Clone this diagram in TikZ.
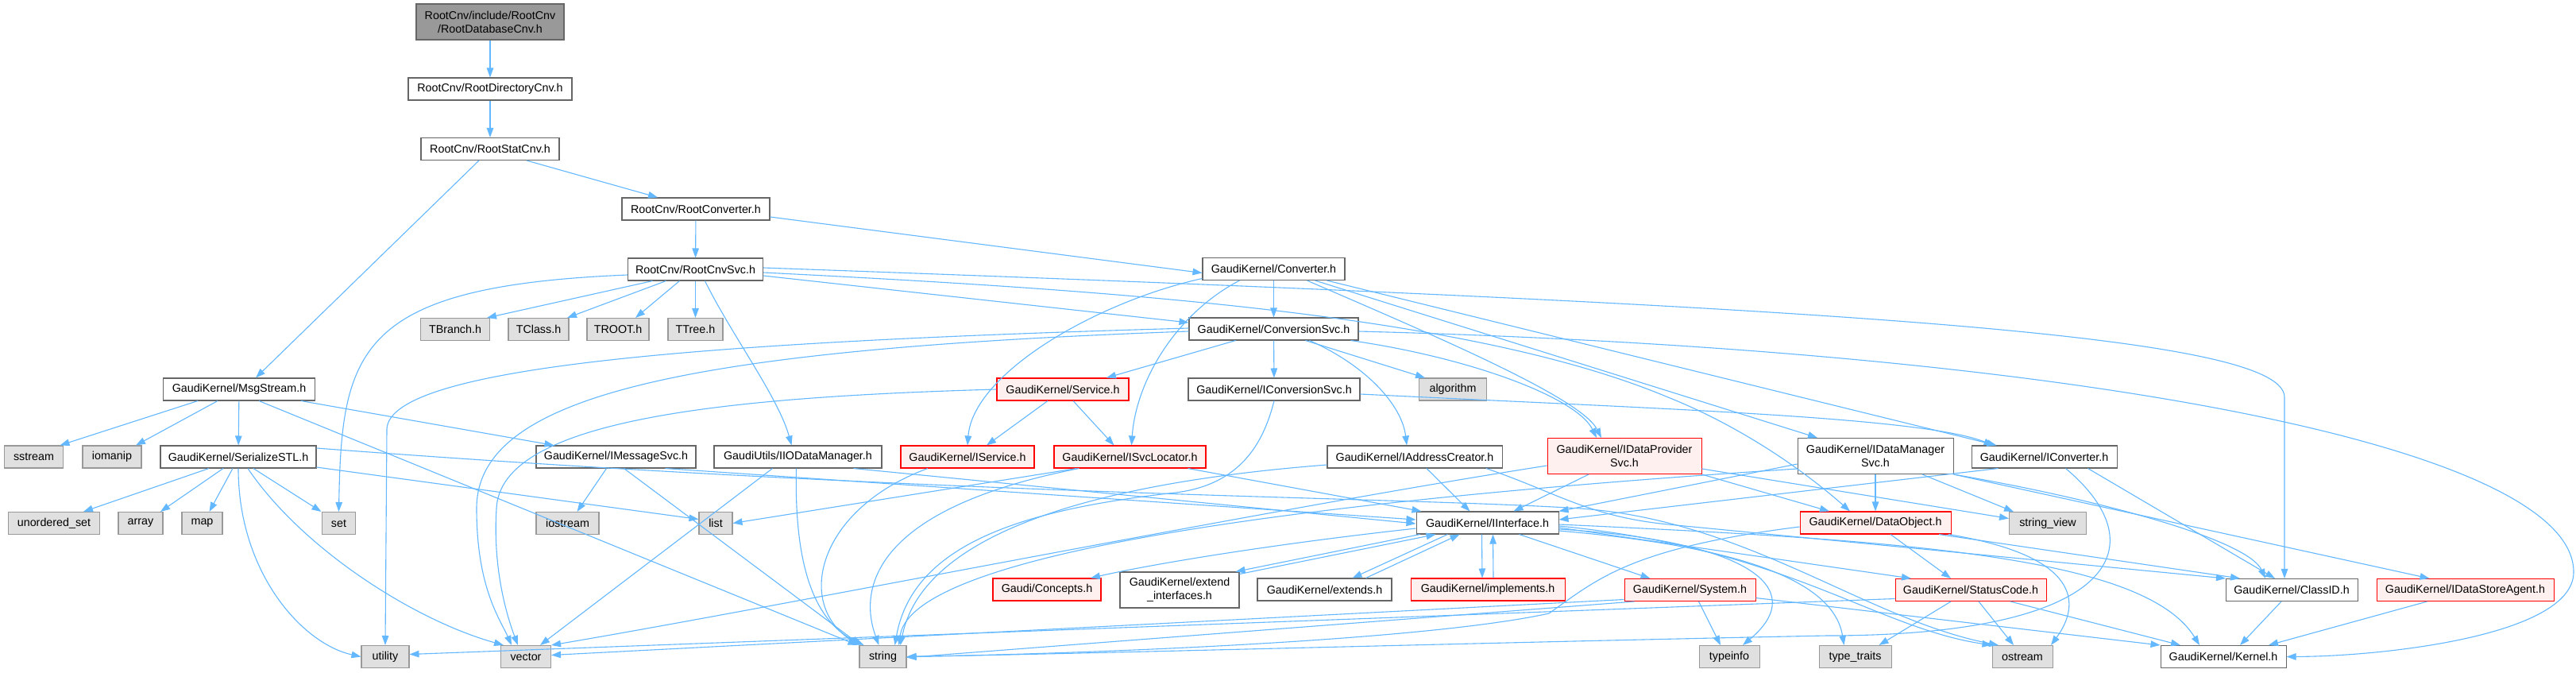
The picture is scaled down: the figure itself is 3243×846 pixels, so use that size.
\documentclass[tikz,border=0pt]{standalone}
\usepackage{fontspec}
\setmainfont{Liberation Sans}
\usetikzlibrary{arrows.meta}
\definecolor{edgec}{HTML}{63B8FF}
\definecolor{wborder}{HTML}{666666}
\definecolor{gborder}{HTML}{999999}
\definecolor{gfill}{HTML}{E0E0E0}
\definecolor{rfill}{HTML}{FFF0F0}
\definecolor{rborder}{HTML}{FF0000}
\definecolor{topfill}{HTML}{999999}
\tikzset{
  nb/.style={rectangle, inner sep=0pt, minimum height=28pt, line width=1.05pt,
    font=\fontsize{14.3}{17}\selectfont, align=center, text=black},
  wbox/.style={nb, draw=wborder, fill=white},
  rbox/.style={nb, draw=rborder, fill=rfill},
  gbox/.style={nb, draw=gborder, fill=gfill},
  tbox/.style={nb, draw=wborder, fill=topfill},
  edge/.style={draw=edgec, line width=1.1pt, -{Triangle[length=12pt,width=8.5pt]}},
}
\begin{document}
\begin{tikzpicture}[x=1pt,y=-1pt]
\fill[white] (0,0) rectangle (3243,846);
\useasboundingbox (0,0) rectangle (3243,846);
% ---- nodes ----
\node[tbox, minimum width=186pt, minimum height=45pt] (db) at (617,27.5) {RootCnv/include/RootCnv\\/RootDatabaseCnv.h};
\node[wbox, minimum width=206pt] (dir) at (617,112) {RootCnv/RootDirectoryCnv.h};
\node[wbox, minimum width=174pt] (stat) at (617,187.5) {RootCnv/RootStatCnv.h};
\node[wbox, minimum width=186pt] (rconv) at (876,263) {RootCnv/RootConverter.h};
\node[wbox, minimum width=170pt] (rsvc) at (875.5,339) {RootCnv/RootCnvSvc.h};
\node[gbox, minimum width=87pt] (tbranch) at (573,414.5) {TBranch.h};
\node[gbox, minimum width=76pt] (tclass) at (678,414.5) {TClass.h};
\node[gbox, minimum width=78pt] (troot) at (778,414.5) {TROOT.h};
\node[gbox, minimum width=69pt] (ttree) at (875.5,414.5) {TTree.h};
\node[wbox, minimum width=179pt] (conv) at (1603.5,338.5) {GaudiKernel/Converter.h};
\node[wbox, minimum width=213pt] (convsvc) at (1603.5,414) {GaudiKernel/ConversionSvc.h};
\node[wbox, minimum width=191pt] (msg) at (301,490) {GaudiKernel/MsgStream.h};
\node[rbox, minimum width=166pt] (service) at (1338,490) {GaudiKernel/Service.h};
\node[wbox, minimum width=216pt] (iconvsvc) at (1604,490) {GaudiKernel/IConversionSvc.h};
\node[gbox, minimum width=85pt] (algorithm) at (1829,490) {algorithm};
\node[gbox, minimum width=74pt] (sstream) at (42.5,575) {sstream};
\node[gbox, minimum width=74pt] (iomanip) at (141,575) {iomanip};
\node[wbox, minimum width=196pt] (serial) at (300,575) {GaudiKernel/SerializeSTL.h};
\node[wbox, minimum width=201pt] (imsg) at (775.5,575) {GaudiKernel/IMessageSvc.h};
\node[wbox, minimum width=211pt] (iio) at (1004.5,575) {GaudiUtils/IIODataManager.h};
\node[rbox, minimum width=168pt] (iservice) at (1218,575) {GaudiKernel/IService.h};
\node[rbox, minimum width=191pt] (isvcloc) at (1422.5,575) {GaudiKernel/ISvcLocator.h};
\node[wbox, minimum width=220pt] (iaddr) at (1781,575) {GaudiKernel/IAddressCreator.h};
\node[rbox, minimum width=194pt, minimum height=45pt] (idp) at (2045,574) {GaudiKernel/IDataProvider\\Svc.h};
\node[wbox, minimum width=196pt, minimum height=45pt] (idm) at (2361,574) {GaudiKernel/IDataManager\\Svc.h};
\node[wbox, minimum width=183pt] (iconverter) at (2573.5,575) {GaudiKernel/IConverter.h};
\node[gbox, minimum width=115pt] (uset) at (68,658.5) {unordered\_set};
\node[gbox, minimum width=56pt] (array) at (177,658.5) {array};
\node[gbox, minimum width=51pt] (map) at (254.5,658.5) {map};
\node[gbox, minimum width=42pt] (set) at (426.5,658.5) {set};
\node[gbox, minimum width=79pt] (iostream) at (714.5,658.5) {iostream};
\node[gbox, minimum width=42pt] (list) at (901,658.5) {list};
\node[wbox, minimum width=179pt] (iint) at (1872.5,658) {GaudiKernel/IInterface.h};
\node[rbox, minimum width=190pt] (dobj) at (2361,658) {GaudiKernel/DataObject.h};
\node[gbox, minimum width=97pt] (sview) at (2578,658.5) {string\_view};
\node[rbox, minimum width=136pt] (concepts) at (1318,742) {Gaudi/Concepts.h};
\node[wbox, minimum width=150pt, minimum height=45pt] (extif) at (1485,742.5) {GaudiKernel/extend\\\_interfaces.h};
\node[wbox, minimum width=169pt] (extends) at (1667.5,742) {GaudiKernel/extends.h};
\node[rbox, minimum width=194pt] (impl) at (1873,742) {GaudiKernel/implements.h};
\node[rbox, minimum width=165pt] (system) at (2127.5,742.5) {GaudiKernel/System.h};
\node[rbox, minimum width=190pt] (status) at (2481,742.5) {GaudiKernel/StatusCode.h};
\node[wbox, minimum width=166pt] (classid) at (2885,742.5) {GaudiKernel/ClassID.h};
\node[rbox, minimum width=223pt] (idsa) at (3103.5,742.5) {GaudiKernel/IDataStoreAgent.h};
\node[gbox, minimum width=60pt] (utility) at (485,826.5) {utility};
\node[gbox, minimum width=63pt] (vector) at (662,826.5) {vector};
\node[gbox, minimum width=59pt] (string) at (1111.5,826.5) {string};
\node[gbox, minimum width=76pt] (typeinfo) at (2177,826.5) {typeinfo};
\node[gbox, minimum width=91pt] (typetraits) at (2335.5,826.5) {type\_traits};
\node[gbox, minimum width=76pt] (ostream) at (2546,826.5) {ostream};
\node[wbox, minimum width=158pt] (kernel) at (2799,826.5) {GaudiKernel/Kernel.h};
% ---- edges ----
\path[edge] (db) -- (dir);
\path[edge] (dir) -- (stat);
\path[edge] ([xshift=46pt]stat.south) -- ([xshift=-48pt]rconv.north);
\path[edge] ([xshift=-14pt]stat.south) -- ([xshift=21pt]msg.north);
\path[edge] (rconv) -- (rsvc);
\path[edge] ([yshift=-10pt]rconv.east) -- ([yshift=-5pt]conv.west);
\path[edge] ([xshift=-54pt]rsvc.south) -- ([xshift=40pt]tbranch.north);
\path[edge] ([xshift=-37pt]rsvc.south) -- ([xshift=36pt]tclass.north);
\path[edge] ([xshift=-20pt]rsvc.south) -- ([xshift=22pt]troot.north);
\path[edge] (rsvc) -- (ttree);
\path[edge] ([yshift=-7pt]rsvc.west) .. controls (450,360) and (430,440) .. (set.north);
\path[edge] ([xshift=12pt]rsvc.south) .. controls (920,420) and (980,500) .. ([xshift=-8pt]iio.north);
\path[edge] ([yshift=-8pt]rsvc.east) -- ([yshift=8pt]convsvc.west);
\path[edge] ([yshift=2pt]rsvc.east) .. controls (2300,385) and (2876,420) .. (2876,500) -- ([xshift=-9pt]classid.north);
\path[edge] ([yshift=-4pt]rsvc.east) .. controls (1400,365) and (1850,395) .. (2100,500) .. controls (2200,540) and (2280,600) .. ([xshift=-32pt]dobj.north);
\path[edge] ([yshift=-12pt]conv.west) .. controls (1380,380) and (1225,470) .. (iservice.north);
\path[edge] ([xshift=-43pt]conv.south) .. controls (1480,395) and (1430,480) .. ([xshift=2pt]isvcloc.north);
\path[edge] (conv) -- (convsvc);
\path[edge] ([xshift=42pt]conv.south) .. controls (1800,420) and (1990,500) .. ([xshift=-29pt]idp.north);
\path[edge] ([xshift=52pt]conv.south) -- ([xshift=-73pt]idm.north);
\path[edge] ([xshift=67pt]conv.south) -- ([xshift=-60pt]iconverter.north);
\path[edge] ([xshift=-48pt]convsvc.south) -- ([xshift=55pt]service.north);
\path[edge] (convsvc) -- (iconvsvc);
\path[edge] ([xshift=40pt]convsvc.south) -- ([xshift=-35pt]algorithm.north);
\path[edge] ([xshift=45pt]convsvc.south) .. controls (1720,460) and (1765,510) .. ([xshift=-10pt]iaddr.north);
\path[edge] ([xshift=97pt]convsvc.south) .. controls (1850,450) and (1985,500) .. ([xshift=-35pt]idp.north);
\path[edge] ([yshift=1pt]convsvc.west) .. controls (900,430) and (490,460) .. (487,540) -- (utility.north);
\path[edge] ([yshift=-3pt]convsvc.west) .. controls (850,440) and (600,500) .. (600,640) .. controls (600,740) and (630,780) .. ([xshift=-18pt]vector.north);
\path[edge] ([yshift=-3pt]convsvc.east) .. controls (2600,440) and (3240,560) .. (3240,720) .. controls (3240,800) and (3000,826) .. (kernel.east);
\path[edge] ([xshift=-52pt]msg.south) -- ([xshift=33pt]sstream.north);
\path[edge] ([xshift=-27pt]msg.south) -- ([xshift=30pt]iomanip.north);
\path[edge] (msg) -- (serial);
\path[edge] ([xshift=25pt]msg.south) -- ([xshift=-32pt]string.north);
\path[edge] ([xshift=78pt]msg.south) -- ([xshift=-78pt]imsg.north);
\path[edge] ([xshift=-37pt]serial.south) -- ([xshift=37pt]uset.north);
\path[edge] ([xshift=-19pt]serial.south) -- ([xshift=25pt]array.north);
\path[edge] ([xshift=-7pt]serial.south) -- ([xshift=9pt]map.north);
\path[edge] (serial.south) .. controls (300,720) and (380,810) .. (utility.west);
\path[edge] ([xshift=12pt]serial.south) .. controls (380,690) and (520,780) .. ([xshift=-28pt]vector.north);
\path[edge] ([xshift=19pt]serial.south) -- ([xshift=-22pt]set.north);
\path[edge] ([yshift=-13pt]serial.east) -- ([yshift=5pt]list.west);
\path[edge] ([yshift=11pt]serial.east) .. controls (1200,625) and (1760,625) .. (1990,640) .. controls (2200,655) and (2350,780) .. ([xshift=-30pt]ostream.north);
\path[edge] ([xshift=-12pt]imsg.south) -- ([xshift=12pt]iostream.north);
\path[edge] ([xshift=10pt]imsg.south) -- ([xshift=-28pt]string.north);
\path[edge] ([xshift=62pt]imsg.south) -- ([yshift=4pt]iint.west);
\path[edge] ([xshift=-32pt]iio.south) -- ([xshift=18pt]vector.north);
\path[edge] ([xshift=-2pt]iio.south) .. controls (1000,700) and (1020,780) .. ([xshift=-24pt]string.north);
\path[edge] ([xshift=70pt]iio.south) -- ([yshift=-1pt]iint.west);
\path[edge] ([xshift=-19pt]service.south) -- ([xshift=24pt]iservice.north);
\path[edge] ([xshift=13pt]service.south) -- ([xshift=-20pt]isvcloc.north);
\path[edge] (service.west) .. controls (900,500) and (630,530) .. (625,640) .. controls (620,720) and (640,780) .. ([xshift=-10pt]vector.north);
\path[edge] ([yshift=-6pt]iconvsvc.east) .. controls (2100,515) and (2420,525) .. ([xshift=-64pt]iconverter.north);
\path[edge] (iconvsvc.south) .. controls (1590,560) and (1560,610) .. (1480,620) .. controls (1300,640) and (1150,680) .. ([xshift=15pt]string.north);
\path[edge] ([xshift=-50pt]iservice.south) .. controls (1030,640) and (1000,760) .. ([xshift=-30pt]string.north);
\path[edge] ([xshift=-67pt]isvcloc.south) -- (list.east);
\path[edge] ([xshift=-64pt]isvcloc.south) .. controls (1100,640) and (1080,740) .. ([xshift=-5pt]string.north);
\path[edge] ([xshift=73pt]isvcloc.south) -- ([xshift=-83pt]iint.north);
\path[edge] ([xshift=15pt]iaddr.south) -- ([xshift=-22pt]iint.north);
\path[edge] ([yshift=-10pt]iaddr.west) .. controls (1350,610) and (1160,680) .. ([xshift=22pt]string.north);
\path[edge] ([xshift=90pt]iaddr.south) .. controls (1960,620) and (2000,650) .. (2100,660) -- ([xshift=-83pt]classid.north);
\path[edge] ([xshift=-45pt]idp.south) -- ([xshift=33pt]iint.north);
\path[edge] (idp.south east) -- ([xshift=-58pt]dobj.north);
\path[edge] ([yshift=-16pt]idp.east) -- ([yshift=6pt]sview.west);
\path[edge] ([yshift=-12pt]idp.west) .. controls (1600,640) and (1000,760) .. (vector.north east);
\path[edge] (idm) -- (dobj);
\path[edge] ([xshift=59pt]idm.south) -- ([xshift=-43pt]sview.north);
\path[edge] (idm.south east) .. controls (2650,630) and (2830,680) .. ([xshift=-33pt]classid.north);
\path[edge] (idm.south east) -- ([xshift=-45pt]idsa.north);
\path[edge] ([yshift=-10pt]idm.west) -- (iint.north east);
\path[edge] ([yshift=-16pt]idm.west) .. controls (1800,620) and (1150,680) .. ([xshift=20pt]string.north);
\path[edge] ([xshift=55pt]iconverter.south) -- ([xshift=-21pt]classid.north);
\path[edge] ([xshift=-58pt]iconverter.south) -- ([yshift=4pt]iint.east);
\path[edge] ([xshift=27pt]iconverter.south) .. controls (2720,690) and (2660,800) .. (2300,800) .. controls (1900,808) and (1400,822) .. (string.east);
\path[edge] ([yshift=-7pt]iint.west) .. controls (1600,685) and (1450,710) .. ([xshift=55pt]concepts.north);
\path[edge] ([xshift=-85pt]iint.south) -- ([xshift=-5pt]extif.north east);
\path[edge] ([yshift=-3pt]extif.north east) -- ([xshift=-65pt]iint.south);
\path[edge] ([xshift=-50pt]iint.south) -- ([xshift=35pt]extends.north);
\path[edge] ([xshift=52pt]extends.north) -- ([xshift=-35pt]iint.south);
\path[edge] ([xshift=-7pt]iint.south) -- ([xshift=-7pt]impl.north);
\path[edge] ([xshift=7pt]impl.north) -- ([xshift=7pt]iint.south);
\path[edge] ([xshift=40pt]iint.south) -- ([xshift=-50pt]system.north);
\path[edge] ([yshift=-6pt]iint.east) -- ([xshift=-75pt]status.north);
\path[edge] ([yshift=-8pt]iint.east) .. controls (2200,680) and (2280,740) .. ([xshift=17pt]typeinfo.north);
\path[edge] ([yshift=-10pt]iint.east) .. controls (2220,690) and (2310,740) .. ([xshift=-14pt]typetraits.north);
\path[edge] ([yshift=-4pt]iint.east) .. controls (2250,690) and (2360,790) .. (ostream.north west);
\path[edge] ([yshift=-2pt]iint.east) .. controls (2400,680) and (2700,700) .. ([xshift=-30pt]kernel.north);
\path[edge] ([xshift=19pt]dobj.south) -- ([xshift=-25pt]status.north);
\path[edge] ([xshift=80pt]dobj.south) -- ([xshift=-65pt]classid.north);
\path[edge] ([xshift=92pt]dobj.south) .. controls (2620,700) and (2620,760) .. ([xshift=36pt]ostream.north);
\path[edge] ([yshift=-5pt]dobj.west) .. controls (2050,690) and (2010,730) .. (1950,772) .. controls (1800,805) and (1400,822) .. (string.east);
\path[edge] ([xshift=-25pt]status.south) -- ([xshift=30pt]typetraits.north);
\path[edge] ([xshift=10pt]status.south) -- ([xshift=-11pt]ostream.north);
\path[edge] ([xshift=50pt]status.south) -- ([xshift=-54pt]kernel.north);
\path[edge] ([yshift=-11pt]status.west) -- ([yshift=3pt]utility.east);
\path[edge] ([xshift=11pt]system.south) -- ([xshift=-11pt]typeinfo.north);
\path[edge] ([yshift=-10pt]system.east) -- (kernel.north west);
\path[edge] ([yshift=-12pt]system.west) -- ([yshift=2pt]vector.east);
\path[edge] ([xshift=-70pt]system.south) -- ([yshift=-1pt]string.east);
\path[edge] ([xshift=-13pt]classid.south) -- ([xshift=21pt]kernel.north);
\path[edge] ([xshift=-48pt]idsa.south) -- ([xshift=57pt]kernel.north);
\end{tikzpicture}
\end{document}
